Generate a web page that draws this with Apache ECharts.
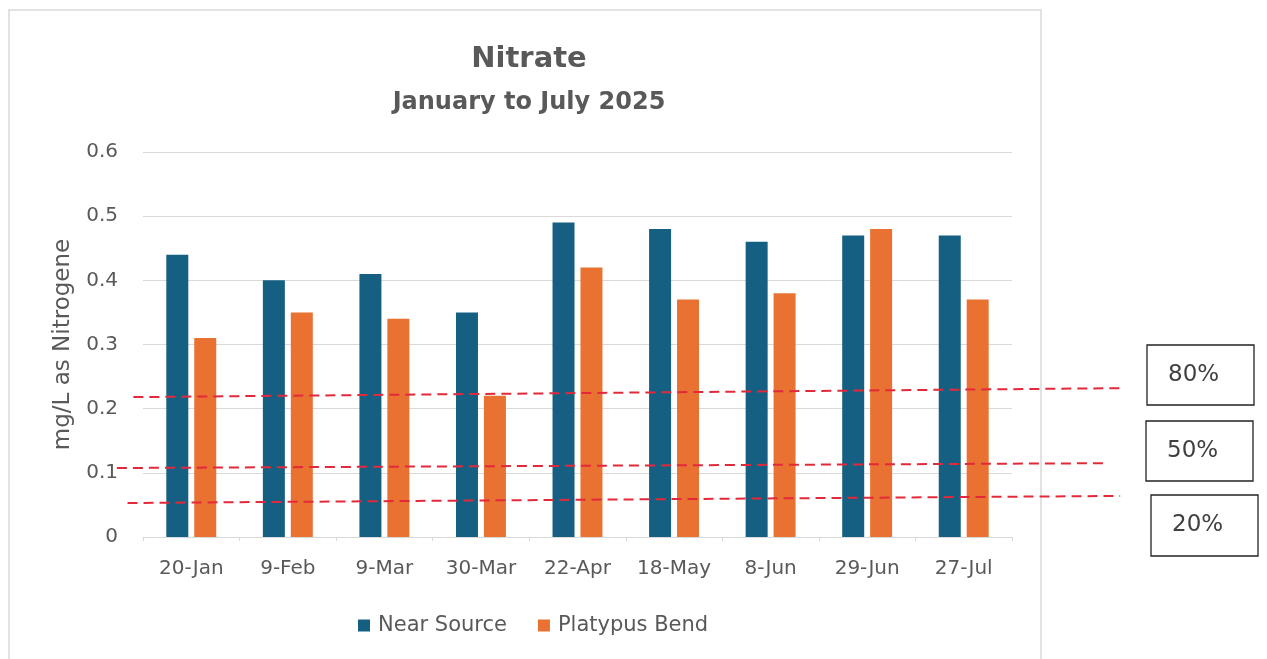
<!DOCTYPE html>
<html>
<head>
<meta charset="utf-8">
<script src="https://cdn.jsdelivr.net/npm/echarts@6/dist/echarts.min.js"></script>
<style>
html,body{margin:0;padding:0;background:#fff;}
#chart{width:1267px;height:659px;}
</style>
</head>
<body>
<div id="chart"></div>
<script>
// ---- data ----
const categories = ['20-Jan','9-Feb','9-Mar','30-Mar','22-Apr','18-May','8-Jun','29-Jun','27-Jul'];
const nearSource = [0.44, 0.40, 0.41, 0.35, 0.49, 0.48, 0.46, 0.47, 0.47];
const platypusBend = [0.31, 0.35, 0.34, 0.22, 0.42, 0.37, 0.38, 0.48, 0.37];
const yTicks = [0, 0.1, 0.2, 0.3, 0.4, 0.5, 0.6];
// threshold dashed lines (value at start / end, x in category-index units)
const thresholdLabels = ['80%', '50%', '20%'];
const thresholdStartY = [0.218, 0.1075, 0.053];
const thresholdEndY = [0.232, 0.115, 0.064];
const thresholdStartX = [-0.60, -0.77, -0.66];
const thresholdEndX = [9.66, 9.50, 9.62];

const W = 1267;
const gridLeft = 143, gridRight = 255, gridTop = 152, gridBottom = 122;
// overlay axis spanning the full width, scaled to match the category axis (-0.5..8.5 over the plot)
const unitPerPx = categories.length / (W - gridLeft - gridRight);
const overlayMin = -0.5 - gridLeft * unitPerPx;
const overlayMax = categories.length - 0.5 + gridRight * unitPerPx;

const chart = echarts.init(document.getElementById('chart'));
const textColor = '#595959';
const font = '"DejaVu Sans", sans-serif';

const lineSeries = thresholdLabels.map((lab, i) => ({
  name: lab,
  type: 'line',
  xAxisIndex: 1,
  yAxisIndex: 1,
  data: [[thresholdStartX[i], thresholdStartY[i]], [thresholdEndX[i], thresholdEndY[i]]],
  symbol: 'none',
  clip: false,
  silent: true,
  z: 5,
  lineStyle: { color: '#e3283a', width: 2, type: [10, 6] }
}));

// label boxes
const boxGeom = [
  { x: 1147, y: 345, w: 107, h: 60 },
  { x: 1146, y: 421, w: 107, h: 60 },
  { x: 1151, y: 495, w: 107, h: 61 }
];
const boxTextX = [1168, 1167, 1172];
const boxes = thresholdLabels.map((lab, i) => ({
  type: 'group',
  children: [
    { type: 'rect', shape: { x: boxGeom[i].x, y: boxGeom[i].y, width: boxGeom[i].w, height: boxGeom[i].h },
      style: { fill: '#fff', stroke: '#222', lineWidth: 1.3 } },
    { type: 'text', x: boxTextX[i], y: boxGeom[i].y + boxGeom[i].h / 2,
      style: { text: lab, fill: '#404040', font: '23px ' + font, textVerticalAlign: 'middle' } }
  ]
}));

chart.setOption({
  animation: false,
  backgroundColor: '#fff',
  title: [
    { text: 'Nitrate', left: 524, top: 40, textAlign: 'center',
      textStyle: { color: textColor, fontSize: 29, fontWeight: 'bold', fontFamily: font } },
    { text: 'January to July 2025', left: 524, top: 86, textAlign: 'center',
      textStyle: { color: textColor, fontSize: 24, fontWeight: 'bold', fontFamily: font } }
  ],
  legend: {
    top: 610, left: 353,
    itemWidth: 12, itemHeight: 12, itemGap: 31,
    icon: 'rect',
    textStyle: { color: textColor, fontSize: 21, fontFamily: font, padding: [0, 0, 0, 3] },
    data: ['Near Source', 'Platypus Bend']
  },
  grid: [
    { left: gridLeft, right: gridRight, top: gridTop, bottom: gridBottom },
    { left: 0, right: 0, top: gridTop, bottom: gridBottom }
  ],
  xAxis: [
    {
      type: 'category', data: categories, gridIndex: 0,
      axisLine: { lineStyle: { color: '#d9d9d9' } },
      axisTick: { show: true, length: 4, lineStyle: { color: '#d9d9d9' } },
      axisLabel: { color: textColor, fontSize: 20, fontFamily: font, margin: 22 }
    },
    { type: 'value', gridIndex: 1, min: overlayMin, max: overlayMax, show: false }
  ],
  yAxis: [
    {
      type: 'value', gridIndex: 0, min: yTicks[0], max: yTicks[yTicks.length - 1], interval: 0.1,
      name: 'mg/L as Nitrogene', nameLocation: 'middle', nameGap: 68, nameRotate: 90,
      nameTextStyle: { color: textColor, fontSize: 23, fontFamily: font },
      axisLine: { show: false }, axisTick: { show: false },
      axisLabel: { color: textColor, fontSize: 20, fontFamily: font, margin: 25,
        formatter: v => (Math.round(v * 10) / 10).toString() },
      splitLine: { lineStyle: { color: '#d9d9d9' } }
    },
    { type: 'value', gridIndex: 1, min: yTicks[0], max: yTicks[yTicks.length - 1], show: false }
  ],
  series: [
    { name: 'Near Source', type: 'bar', data: nearSource, barWidth: 22, barGap: '27%',
      itemStyle: { color: '#156082' } },
    { name: 'Platypus Bend', type: 'bar', data: platypusBend, barWidth: 22, barGap: '27%',
      itemStyle: { color: '#E97132' } },
    ...lineSeries
  ],
  graphic: [
    { type: 'rect', shape: { x: 9, y: 10, width: 1032, height: 670 },
      style: { fill: 'none', stroke: '#d9d9d9', lineWidth: 1.5 }, z: -1 },
    ...boxes
  ]
});
</script>
</body>
</html>
